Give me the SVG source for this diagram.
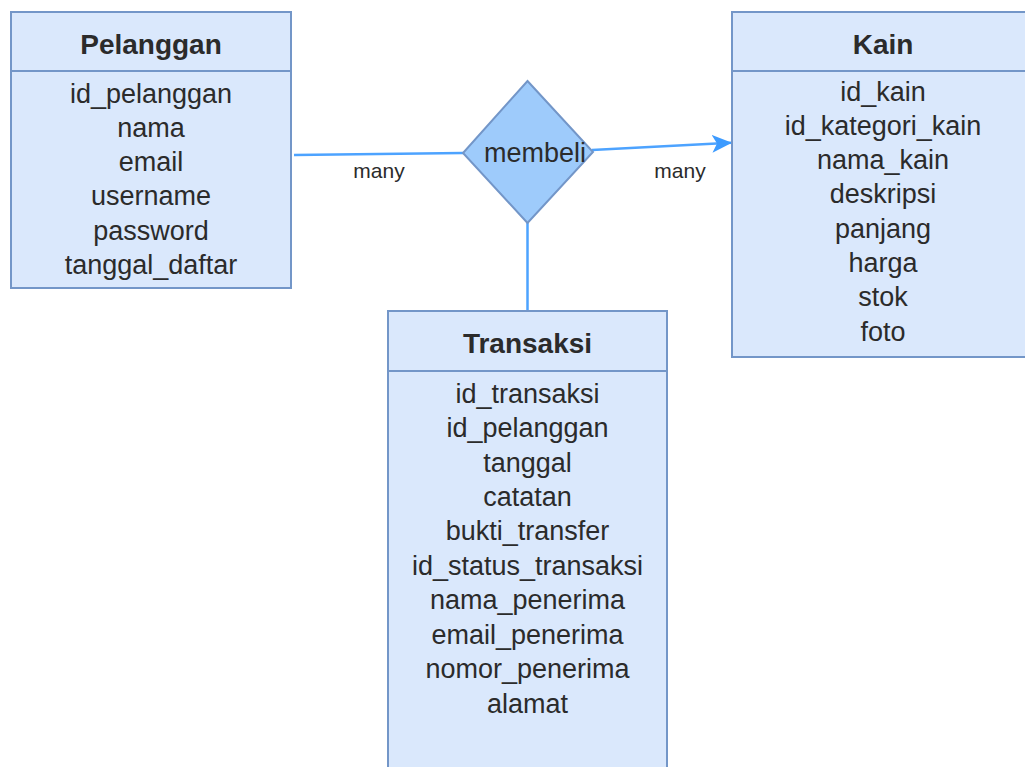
<svg xmlns="http://www.w3.org/2000/svg" width="1025" height="767" viewBox="0 0 1025 767">
  <style>
    .box { fill: #dae8fc; stroke: #7396c8; stroke-width: 2; }
    .div { stroke: #7396c8; stroke-width: 2; }
    .title { font-family: "Liberation Sans", Arial, sans-serif; font-size: 28px; font-weight: bold; fill: #2b2b2b; text-anchor: middle; }
    .field { font-family: "Liberation Sans", Arial, sans-serif; font-size: 27px; fill: #2b2b2b; text-anchor: middle; }
    .lbl { font-family: "Liberation Sans", Arial, sans-serif; font-size: 21px; fill: #2b2b2b; text-anchor: middle; }
    .edge { fill: none; stroke: #4da3ff; stroke-width: 2.5; }
  </style>
  <defs>
    <marker id="arrow" viewBox="0 0 20 18" refX="19" refY="9" markerWidth="20" markerHeight="18" markerUnits="userSpaceOnUse" orient="auto">
      <path d="M0,0 L20,9 L0,18 L5,9 Z" fill="#3d9bff"/>
    </marker>
  </defs>
  <rect width="1025" height="767" fill="#ffffff"/>

  <!-- connectors -->
  <g id="connectors">
    <line class="edge" x1="294" y1="155" x2="463" y2="153"/>
    <line class="edge" x1="592" y1="150" x2="731" y2="142.7" marker-end="url(#arrow)"/>
    <line class="edge" x1="527.5" y1="223" x2="527.5" y2="311"/>
    <text class="lbl" x="379" y="178">many</text>
    <text class="lbl" x="680" y="178">many</text>
  </g>

  <!-- relationship -->
  <g id="membeli">
    <polygon points="527.5,81 593,152 527.5,223 463,153" fill="#9ecbfb" stroke="#7396c8" stroke-width="2"/>
    <text class="field" x="535" y="162">membeli</text>
  </g>

  <!-- entity: Pelanggan -->
  <g id="pelanggan">
    <rect class="box" x="11" y="12" width="280" height="276"/>
    <line class="div" x1="11" y1="71" x2="291" y2="71"/>
    <text class="title" x="151" y="54">Pelanggan</text>
    <text class="field" x="151" y="103">id_pelanggan</text>
    <text class="field" x="151" y="137">nama</text>
    <text class="field" x="151" y="171">email</text>
    <text class="field" x="151" y="205">username</text>
    <text class="field" x="151" y="240">password</text>
    <text class="field" x="151" y="274">tanggal_daftar</text>
  </g>

  <!-- entity: Kain -->
  <g id="kain">
    <rect class="box" x="732" y="12" width="302" height="345"/>
    <line class="div" x1="732" y1="71" x2="1034" y2="71"/>
    <text class="title" x="883" y="54">Kain</text>
    <text class="field" x="883" y="101">id_kain</text>
    <text class="field" x="883" y="135">id_kategori_kain</text>
    <text class="field" x="883" y="169">nama_kain</text>
    <text class="field" x="883" y="203">deskripsi</text>
    <text class="field" x="883" y="238">panjang</text>
    <text class="field" x="883" y="272">harga</text>
    <text class="field" x="883" y="306">stok</text>
    <text class="field" x="883" y="341">foto</text>
  </g>

  <!-- entity: Transaksi -->
  <g id="transaksi">
    <rect class="box" x="388" y="311" width="279" height="470"/>
    <line class="div" x1="388" y1="371" x2="667" y2="371"/>
    <text class="title" x="527.5" y="353">Transaksi</text>
    <text class="field" x="527.5" y="403">id_transaksi</text>
    <text class="field" x="527.5" y="437">id_pelanggan</text>
    <text class="field" x="527.5" y="472">tanggal</text>
    <text class="field" x="527.5" y="506">catatan</text>
    <text class="field" x="527.5" y="540">bukti_transfer</text>
    <text class="field" x="527.5" y="575">id_status_transaksi</text>
    <text class="field" x="527.5" y="609">nama_penerima</text>
    <text class="field" x="527.5" y="644">email_penerima</text>
    <text class="field" x="527.5" y="678">nomor_penerima</text>
    <text class="field" x="527.5" y="713">alamat</text>
  </g>
</svg>
